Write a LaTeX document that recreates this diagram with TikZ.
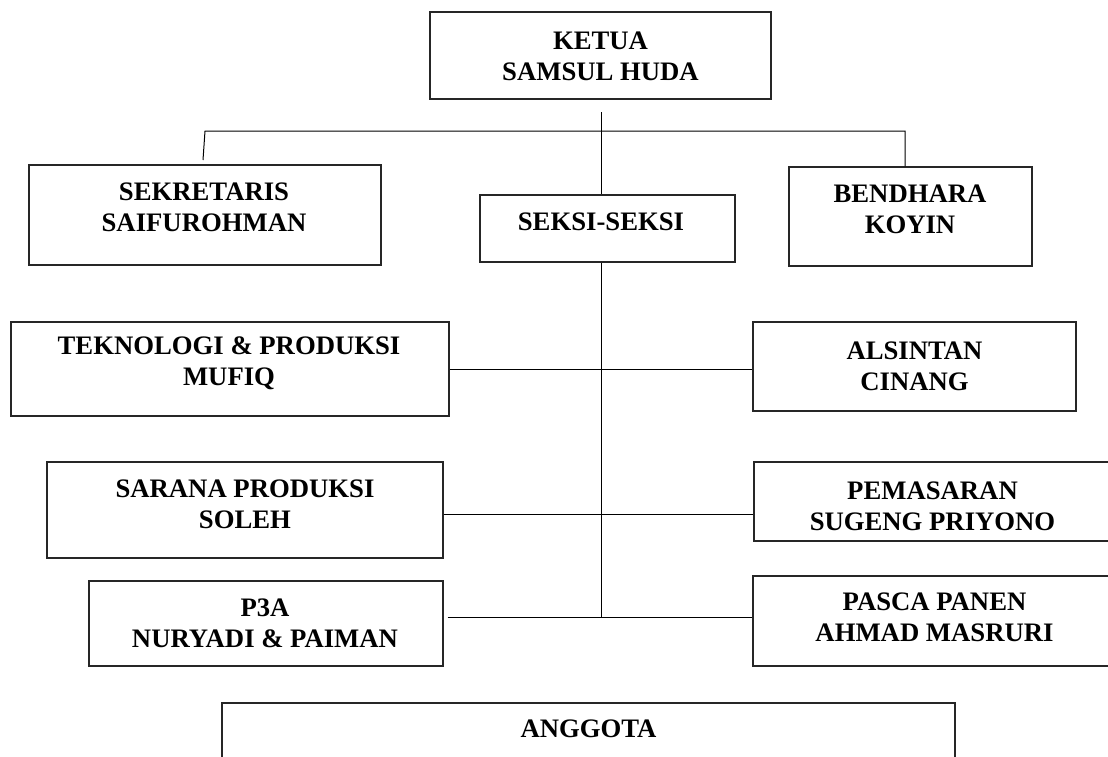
\documentclass[tikz,border=0pt]{standalone}
\usepackage{fontspec}
\setmainfont{Liberation Serif}
\begin{document}
\begin{tikzpicture}[x=1pt,y=-1pt,
  orgbox/.style={draw=black!85, line width=1.2pt, inner sep=0pt},
  orgtext/.style={align=center, inner sep=0pt, font=\fontsize{26.7}{31}\selectfont\bfseries},
  link/.style={draw=black, line width=1pt}]
\useasboundingbox (0,0) rectangle (1108,756);
\clip (0,0) rectangle (1108,756);
% boxes
\node[orgbox, minimum width=341, minimum height=87] (ketua) at (600.5,55.5) {};
\node[orgbox, minimum width=352, minimum height=100] (sek) at (205,215) {};
\node[orgbox, minimum width=255, minimum height=67] (seksi) at (607.5,228.5) {};
\node[orgbox, minimum width=243, minimum height=99] (bend) at (910.5,216.5) {};
\node[orgbox, minimum width=438, minimum height=94] (tek) at (230,369) {};
\node[orgbox, minimum width=323, minimum height=89] (als) at (914.5,366.5) {};
\node[orgbox, minimum width=396, minimum height=96] (sar) at (245,510) {};
\node[orgbox, minimum width=357, minimum height=79] (pem) at (932.5,501.5) {};
\node[orgbox, minimum width=354, minimum height=85] (p3a) at (266,623.5) {};
\node[orgbox, minimum width=363, minimum height=90] (pas) at (934.5,621) {};
\node[orgbox, minimum width=733, minimum height=80] (ang) at (588.5,743) {};
% texts
\node[orgtext] (ketuaT) at (600.5,56) {KETUA\\SAMSUL HUDA};
\node[orgtext] (sekT) at (204,207) {SEKRETARIS\\SAIFUROHMAN};
\node[orgtext] (seksiT) at (601,222) {SEKSI-SEKSI};
\node[orgtext] (bendT) at (910,209) {BENDHARA\\KOYIN};
\node[orgtext] (tekT) at (229,363) {TEKNOLOGI \& PRODUKSI\\MUFIQ};
\node[orgtext] (alsT) at (914.5,366) {ALSINTAN\\CINANG};
\node[orgtext] (sarT) at (245,504) {SARANA PRODUKSI\\SOLEH};
\node[orgtext] (pemT) at (932.5,506) {PEMASARAN\\SUGENG PRIYONO};
\node[orgtext] (p3aT) at (265,623) {P3A\\NURYADI \& PAIMAN};
\node[orgtext] (pasT) at (934.5,617) {PASCA PANEN\\AHMAD MASRURI};
\node[orgtext] (angT) at (588.5,729) {ANGGOTA};
% connector points
\coordinate (trunkTop) at (601,112);
\coordinate (trunkBot) at (601,617);
\coordinate (barL) at (205,131);
\coordinate (barR) at (905,131);
\coordinate (sekDrop) at (203,160);
% connectors
\draw[link] (trunkTop) -- (trunkTop |- seksi.north);
\draw[link] (trunkTop |- seksi.south) -- (trunkBot);
\draw[link] (sekDrop) -- (barL) -- (barR) -- (barR |- bend.north);
\draw[link] (tek.east) -- (tek.east -| als.west);
\draw[link] (sar.east |- 0,514) -- (pem.west |- 0,514);
\draw[link] ([xshift=4pt]p3a.east |- trunkBot) -- (pas.west |- trunkBot);
\end{tikzpicture}
\end{document}
